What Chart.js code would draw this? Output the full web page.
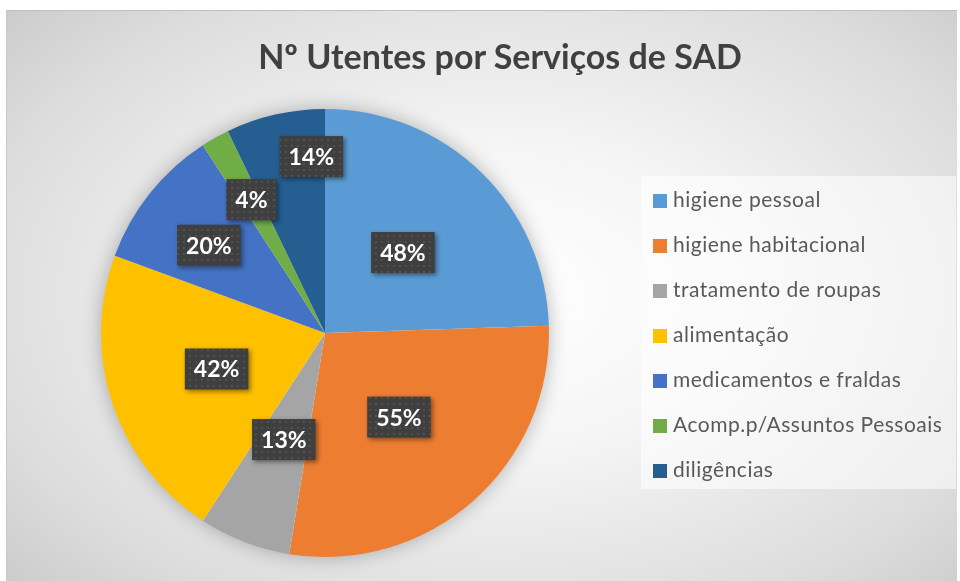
<!DOCTYPE html>
<html>
<head>
<meta charset="utf-8">
<script src="https://cdn.jsdelivr.net/npm/chart.js@4.4.0/dist/chart.umd.min.js"></script>
<style>
  html, body { margin: 0; padding: 0; background: #fff; overflow: hidden; }
  #frame {
    position: absolute; left: 6px; top: 10px; width: 951px; height: 571px;
    background: radial-gradient(ellipse 75% 80% at 52% 50%, #ffffff 0%, #f4f4f4 35%, #dcdcdc 75%, #c6c6c6 100%);
    border-top: 1px solid #c0c0c0; border-left: 1px solid #c8c8c8;
    box-sizing: border-box;
  }
  #title {
    position: absolute; left: 0; width: 100%; top: 24px; text-align: center;
    font: bold 34px Lato, "Open Sans", sans-serif; color: #404040;
    text-indent: 36px;
  }
  #legend {
    position: absolute; left: 634px; top: 165px; width: 315px; height: 313px;
    background: rgba(255,255,255,0.55);
    font: 21px Lato, "Open Sans", sans-serif; color: #595959; letter-spacing: 0.5px;
  }
  .item { position: absolute; left: 12px; height: 24px; line-height: 24px; white-space: nowrap; }
  .item span.box { display: inline-block; width: 14px; height: 14px; margin-right: 6px; vertical-align: -1px; }
  canvas { position: absolute; left: 0; top: 0; }
</style>
</head>
<body>
<div id="frame">
  <canvas id="pie" width="951" height="571"></canvas>
  <div id="title"></div>
  <div id="legend"></div>
</div>
<script>
// ===== Dados =====
const titulo = 'Nº Utentes por Serviços de SAD';
const servicos = [
  'higiene pessoal',
  'higiene habitacional',
  'tratamento de roupas',
  'alimentação',
  'medicamentos e fraldas',
  'Acomp.p/Assuntos Pessoais',
  'diligências'
];
const percentagens = [48, 55, 13, 42, 20, 4, 14];
const cores = ['#5B9BD5', '#ED7D31', '#A5A5A5', '#FFC000', '#4472C4', '#70AD47', '#255E91'];

// posição das etiquetas: fração do raio e desvio de ângulo (graus)
const etiqRaio   = [0.5, 0.5, 0.51, 0.51, 0.65, 0.68, 0.79];
const etiqDesvio = [0, 0, 0, 0, -1.5, 0.5, 8.4];

// ===== Título e legenda =====
document.getElementById('title').textContent = titulo;
const leg = document.getElementById('legend');
servicos.forEach((s, i) => {
  const d = document.createElement('div');
  d.className = 'item';
  d.style.top = (11 + i * 45) + 'px';
  d.innerHTML = `<span class="box" style="background:${cores[i]}"></span>${s}`;
  leg.appendChild(d);
});

// padrão pontilhado das etiquetas
function padrao(ctx) {
  const c = document.createElement('canvas');
  c.width = 6; c.height = 6;
  const p = c.getContext('2d');
  p.fillStyle = '#3f3f3f';
  p.fillRect(0, 0, 6, 6);
  p.fillStyle = '#505050';
  p.fillRect(2, 2, 2, 2);
  return ctx.createPattern(c, 'repeat');
}

// sombra suave por baixo da pizza
const sombraPizza = {
  id: 'sombraPizza',
  beforeDatasetsDraw(chart) {
    const arc = chart.getDatasetMeta(0).data[0];
    if (!arc) return;
    const ctx = chart.ctx;
    ctx.save();
    ctx.shadowColor = 'rgba(0,0,0,0.3)';
    ctx.shadowBlur = 20;
    ctx.fillStyle = '#ffffff';
    ctx.beginPath();
    ctx.arc(arc.x, arc.y, arc.outerRadius - 1, 0, Math.PI * 2);
    ctx.fill();
    ctx.restore();
  }
};

// etiquetas de percentagem
const etiquetas = {
  id: 'etiquetas',
  afterDatasetsDraw(chart) {
    const ctx = chart.ctx;
    const fill = padrao(ctx);
    ctx.save();
    ctx.font = 'bold 23px Lato, "Open Sans", sans-serif';
    ctx.textAlign = 'center';
    ctx.textBaseline = 'middle';
    chart.getDatasetMeta(0).data.forEach((arc, i) => {
      const ang = (arc.startAngle + arc.endAngle) / 2 + etiqDesvio[i] * Math.PI / 180;
      const r = arc.outerRadius * etiqRaio[i];
      const x = arc.x + Math.cos(ang) * r;
      const y = arc.y + Math.sin(ang) * r;
      const txt = percentagens[i] + '%';
      const w = ctx.measureText(txt).width + 18;
      const h = 41;
      ctx.save();
      ctx.shadowColor = 'rgba(0,0,0,0.45)';
      ctx.shadowBlur = 5;
      ctx.shadowOffsetX = 2;
      ctx.shadowOffsetY = 2;
      ctx.fillStyle = fill;
      ctx.fillRect(x - w / 2, y - h / 2, w, h);
      ctx.restore();
      ctx.fillStyle = '#ffffff';
      ctx.fillText(txt, x, y + 1);
    });
    ctx.restore();
  }
};

new Chart(document.getElementById('pie'), {
  type: 'pie',
  data: {
    labels: servicos,
    datasets: [{
      data: percentagens,
      backgroundColor: cores,
      borderWidth: 0
    }]
  },
  options: {
    responsive: false,
    animation: false,
    layout: { padding: { left: 94, right: 409, top: 98, bottom: 25 } },
    plugins: {
      legend: { display: false },
      tooltip: { enabled: false },
      title: { display: false }
    }
  },
  plugins: [sombraPizza, etiquetas]
});
</script>
</body>
</html>
